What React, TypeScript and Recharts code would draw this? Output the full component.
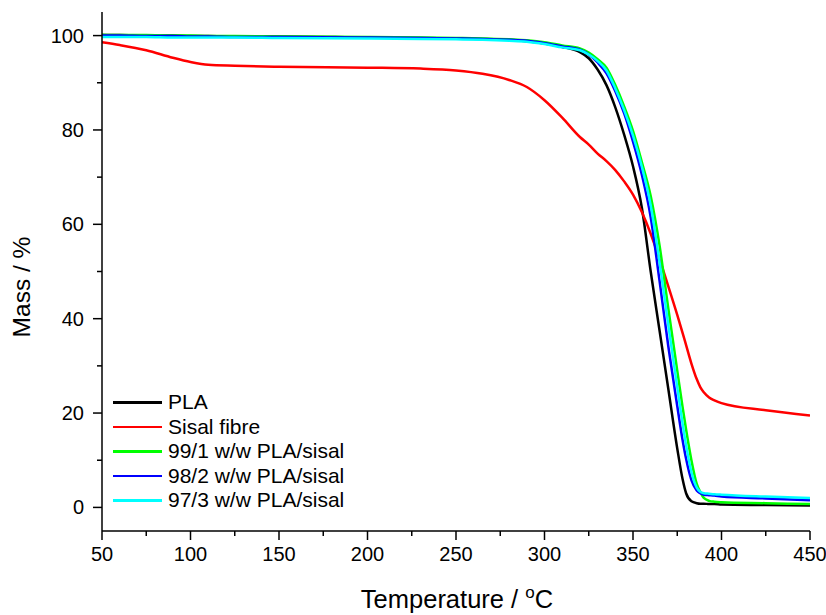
import { LineChart, Line, XAxis, YAxis, Legend } from "recharts";

// temperature grid (°C)
const temps = [50, 60, 75, 90, 100, 110, 125, 150, 200, 230, 250, 265, 280, 290, 300, 310, 320, 325, 330, 335, 340, 345, 350, 355, 360, 365, 370, 375, 378, 380, 383, 386, 388, 390, 393, 396, 400, 425, 450];

// mass (%) per sample
const massPLA = [100.1, 100.1, 100.0, 100.0, 99.9, 99.9, 99.8, 99.8, 99.6, 99.5, 99.4, 99.3, 99.1, 98.8, 98.3, 97.6, 96.5, 95.2, 92.8, 89.5, 84.8, 79.0, 72.3, 63.5, 50.0, 37.5, 25.0, 12.5, 6.0, 3.0, 1.3, 0.9, 0.8, 0.8, 0.7, 0.7, 0.6, 0.5, 0.4];
const massSisal = [98.6, 98.0, 96.9, 95.3, 94.4, 93.8, 93.6, 93.4, 93.2, 93.0, 92.6, 91.9, 90.6, 89.1, 86.3, 82.6, 78.5, 76.9, 75.0, 73.4, 71.5, 69.1, 66.3, 62.6, 58.0, 52.6, 46.8, 40.8, 37.0, 34.4, 30.5, 27.2, 25.5, 24.4, 23.3, 22.7, 22.1, 20.6, 19.5];
const mass991 = [100.2, 100.1, 100.1, 100.0, 100.0, 99.9, 99.9, 99.8, 99.7, 99.6, 99.5, 99.4, 99.2, 99.0, 98.6, 97.9, 97.3, 96.4, 95.0, 93.2, 89.5, 85.0, 79.8, 73.2, 66.0, 55.5, 42.0, 29.0, 21.3, 16.5, 10.0, 5.0, 3.3, 2.0, 1.4, 1.2, 1.1, 0.9, 0.7];
const mass982 = [100.0, 100.0, 99.9, 99.9, 99.8, 99.8, 99.7, 99.7, 99.6, 99.5, 99.4, 99.3, 99.1, 98.9, 98.4, 97.7, 97.0, 96.0, 94.3, 92.0, 88.2, 83.5, 77.5, 70.5, 61.5, 48.0, 34.0, 21.5, 14.3, 10.3, 5.8, 3.6, 3.0, 2.7, 2.6, 2.5, 2.3, 1.9, 1.5];
const mass973 = [99.7, 99.7, 99.7, 99.6, 99.6, 99.6, 99.6, 99.5, 99.4, 99.3, 99.2, 99.1, 98.9, 98.7, 98.2, 97.5, 96.9, 96.0, 94.6, 92.6, 88.8, 84.2, 78.8, 72.2, 64.0, 52.0, 38.5, 25.5, 17.8, 13.2, 7.5, 4.2, 3.3, 3.0, 2.9, 2.8, 2.7, 2.3, 2.0];

const xTicks = [50, 75, 100, 125, 150, 175, 200, 225, 250, 275, 300, 325, 350, 375, 400, 425, 450];
const yTicks = [0, 10, 20, 30, 40, 50, 60, 70, 80, 90, 100];

const series = [
  { key: "pla", name: "PLA", color: "#000000", values: massPLA },
  { key: "sisal", name: "Sisal fibre", color: "#ff0000", values: massSisal },
  { key: "s991", name: "99/1 w/w PLA/sisal", color: "#00ff00", values: mass991 },
  { key: "s982", name: "98/2 w/w PLA/sisal", color: "#0000ff", values: mass982 },
  { key: "s973", name: "97/3 w/w PLA/sisal", color: "#00ffff", values: mass973 },
];

const data = temps.map((t, i) => {
  const row: Record<string, number> = { t };
  series.forEach(s => { row[s.key] = s.values[i]; });
  return row;
});

const FONT = "Arial, 'Liberation Sans', sans-serif";
const W = 826, H = 615;
const LEFT = 102, RIGHT = 810, TOP = 12, BOTTOM = 531;

const BottomTick = ({ x, payload }: any) => {
  const major = payload.value % 50 === 0;
  return (
    <g>
      <line x1={x} x2={x} y1={BOTTOM} y2={BOTTOM + (major ? 9 : 5)} stroke="#000" strokeWidth={1.5} />
      {major && <text x={x} y={BOTTOM + 30} textAnchor="middle" fontSize={20} fontFamily={FONT} fill="#000">{payload.value}</text>}
    </g>
  );
};
const TopTick = ({ x, payload }: any) => {
  const major = payload.value % 50 === 0;
  return <line x1={x} x2={x} y1={TOP} y2={TOP + (major ? 9 : 5)} stroke="#000" strokeWidth={1.5} />;
};
const LeftTick = ({ y, payload }: any) => {
  const major = payload.value % 20 === 0;
  return (
    <g>
      <line x1={LEFT - (major ? 9 : 5)} x2={LEFT} y1={y} y2={y} stroke="#000" strokeWidth={1.5} />
      {major && <text x={LEFT - 18} y={y + 7} textAnchor="end" fontSize={20} fontFamily={FONT} fill="#000">{payload.value}</text>}
    </g>
  );
};
const RightTick = ({ y, payload }: any) => {
  const major = payload.value % 20 === 0;
  return <line x1={RIGHT - (major ? 9 : 5)} x2={RIGHT} y1={y} y2={y} stroke="#000" strokeWidth={1.5} />;
};

const LegendBox = () => (
  <div style={{ fontFamily: FONT, fontSize: 21, color: "#000" }}>
    {series.map(s => (
      <div key={s.key} style={{ display: "flex", alignItems: "center", height: 24.5 }}>
        <div style={{ width: 49, height: 2.5, background: s.color, marginRight: 6 }} />
        <span style={{ lineHeight: "24px" }}>{s.name}</span>
      </div>
    ))}
  </div>
);

export default function App() {
  return (
    <div style={{ position: "absolute", left: 0, top: 0, width: W, height: H, background: "#fff" }}>
      <LineChart width={W} height={H} data={data} margin={{ top: TOP, right: W - RIGHT, left: 0, bottom: 0 }}>
        <XAxis dataKey="t" type="number" domain={[50, 450]} ticks={xTicks} allowDataOverflow
          height={H - BOTTOM} axisLine={{ stroke: "#000", strokeWidth: 1.5 }} tickLine={false} tick={BottomTick} interval={0} />
        <XAxis xAxisId="top" orientation="top" dataKey="t" type="number" domain={[50, 450]} ticks={xTicks} allowDataOverflow
          height={0} axisLine={{ stroke: "#000", strokeWidth: 1.5 }} tickLine={false} tick={TopTick} interval={0} />
        <YAxis type="number" domain={[-5, 105]} ticks={yTicks} allowDataOverflow width={LEFT}
          axisLine={{ stroke: "#000", strokeWidth: 1.5 }} tickLine={false} tick={LeftTick} interval={0} />
        <YAxis yAxisId="right" orientation="right" type="number" domain={[-5, 105]} ticks={yTicks} allowDataOverflow width={0}
          axisLine={{ stroke: "#000", strokeWidth: 1.5 }} tickLine={false} tick={RightTick} interval={0} />
        {series.map(s => (
          <Line key={s.key} dataKey={s.key} name={s.name} type="monotone" stroke={s.color} strokeWidth={2.5}
            dot={false} activeDot={false} isAnimationActive={false} />
        ))}
        <Legend layout="vertical" align="center" verticalAlign="middle" content={LegendBox}
          wrapperStyle={{ left: 113, top: 390, width: 280, height: 125 }} />
        <text x={(LEFT + RIGHT) / 2 + 1} y={608} textAnchor="middle" fontSize={25.5} fontFamily={FONT} fill="#000">
          Temperature / <tspan fontSize={17} dy={-10}>o</tspan><tspan dy={10}>C</tspan>
        </text>
        <text x={30} y={287} transform="rotate(-90 30 287)" textAnchor="middle" fontSize={24.5} fontFamily={FONT} fill="#000">
          Mass / %
        </text>
      </LineChart>
    </div>
  );
}
